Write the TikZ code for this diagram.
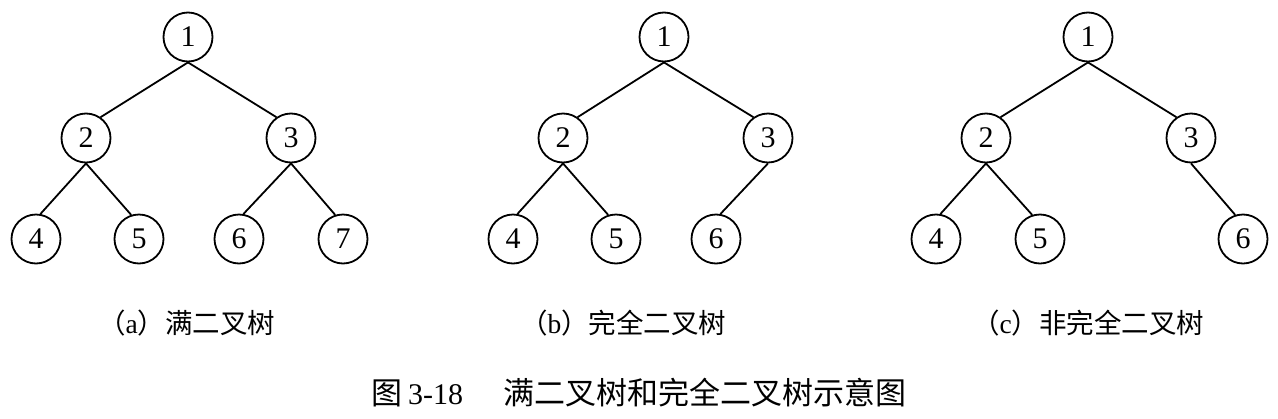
\documentclass[tikz,border=0pt]{standalone}
\usepackage{fontspec}
\setmainfont{Liberation Serif}
\newfontfamily\cjk{Noto Sans CJK SC}
\begin{document}
\begin{tikzpicture}[x=1pt,y=-1pt,
  tn/.style={circle,draw,line width=1.8pt,minimum size=49pt,inner sep=0pt,font=\fontsize{30}{30}\selectfont},
  edge/.style={line width=1.8pt},
  captext/.style={font=\fontsize{27.5}{27.5}\selectfont,anchor=base west,inner sep=0pt},
  ttl/.style={font=\fontsize{31}{31}\selectfont,anchor=base west,inner sep=0pt}]
\useasboundingbox (0,0) rectangle (1278,418);
% tree (a)
\node[tn] (a1) at (188,37) {1};
\node[tn] (a2) at (86,138) {2};
\node[tn] (a3) at (291,138) {3};
\node[tn] (a4) at (36,239) {4};
\node[tn] (a5) at (139,239) {5};
\node[tn] (a6) at (239,239) {6};
\node[tn] (a7) at (343,239) {7};
\draw[edge] (a1.south) -- (a2.55);
\draw[edge] (a1.south) -- (a3.125);
\draw[edge] (a2.south) -- (a4.80);
\draw[edge] (a2.south) -- (a5.108);
\draw[edge] (a3.south) -- (a6.80);
\draw[edge] (a3.south) -- (a7.108);
% tree (b)
\node[tn] (b1) at (664,37) {1};
\node[tn] (b2) at (563,138) {2};
\node[tn] (b3) at (768,138) {3};
\node[tn] (b4) at (513,239) {4};
\node[tn] (b5) at (616,239) {5};
\node[tn] (b6) at (716,239) {6};
\draw[edge] (b1.south) -- (b2.55);
\draw[edge] (b1.south) -- (b3.125);
\draw[edge] (b2.south) -- (b4.80);
\draw[edge] (b2.south) -- (b5.108);
\draw[edge] (b3.south) -- (b6.80);
% tree (c)
\node[tn] (c1) at (1088,37) {1};
\node[tn] (c2) at (986,138) {2};
\node[tn] (c3) at (1191,138) {3};
\node[tn] (c4) at (936,239) {4};
\node[tn] (c5) at (1040,239) {5};
\node[tn] (c6) at (1243,239) {6};
\draw[edge] (c1.south) -- (c2.55);
\draw[edge] (c1.south) -- (c3.125);
\draw[edge] (c2.south) -- (c4.80);
\draw[edge] (c2.south) -- (c5.108);
\draw[edge] (c3.south) -- (c6.108);
% captions
\node[captext] (capa) at (98,333) {{\cjk （}a{\cjk ）满二叉树}};
\node[captext] (capb) at (520,333) {{\cjk （}b{\cjk ）完全二叉树}};
\node[captext] (capc) at (972,333) {{\cjk （}c{\cjk ）非完全二叉树}};
% title
\node[ttl] (t1) at (371,404) {\cjk 图};
\node[ttl,font=\fontsize{30}{30}\selectfont] (t2) at (408,404) {3-18};
\node[ttl] (t3) at (503,404) {\cjk 满二叉树和完全二叉树示意图};
\end{tikzpicture}
\end{document}
